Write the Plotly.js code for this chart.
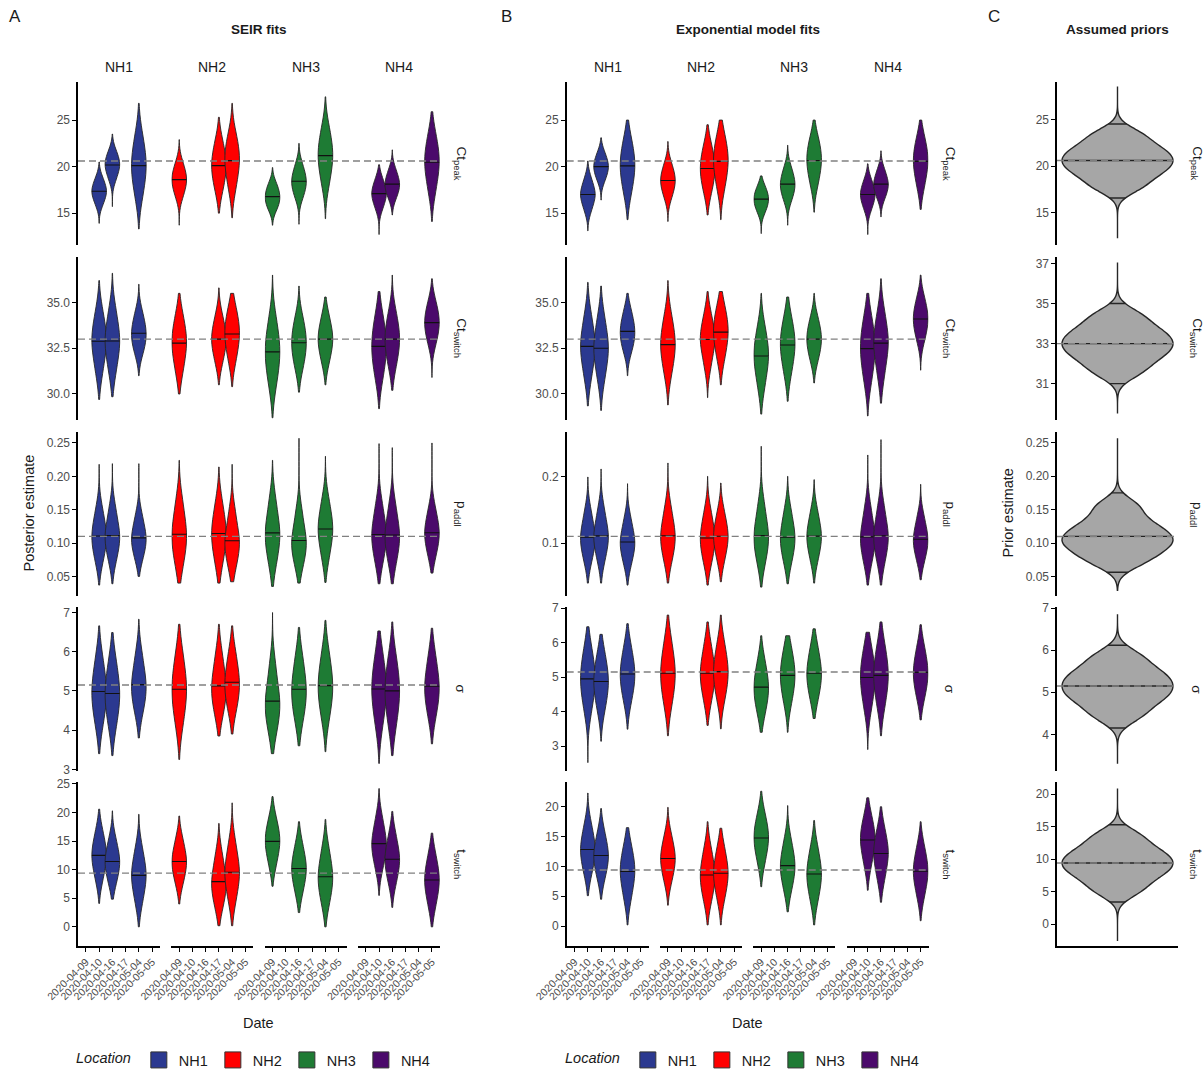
<!DOCTYPE html>
<html><head><meta charset="utf-8">
<script src="https://cdn.plot.ly/plotly-3.0.1.min.js"></script>
<style>html,body{margin:0;padding:0;background:#fff}#chart{width:1204px;height:1076px}</style>
</head><body><div id="chart"></div>
<script>
// ---------------- DATA ----------------
const dates = ["2020-04-09","2020-04-10","2020-04-16","2020-04-17","2020-05-04","2020-05-05"];
const locations = ["NH1","NH2","NH3","NH4"];
const locationColors = ["#2B3990","#FF0000","#1E7B34","#4B0A6B"];
const locationDates = [
  ["2020-04-10","2020-04-16","2020-05-04"],
  ["2020-04-09","2020-04-17","2020-05-04"],
  ["2020-04-09","2020-04-16","2020-05-04"],
  ["2020-04-10","2020-04-16","2020-05-05"]
];
const paramLabels = ["Ct<sub>peak</sub>","Ct<sub>switch</sub>","p<sub>addl</sub>","σ","t<sub>switch</sub>"];
const trueValues = [20.6, 33.0, 0.11, 5.15, 9.4];

// each violin: [lower tail end, five body draws, upper tail end]; grouped by location
const seirCtPeak = [
  [[13.9,16.0,16.9,17.35,17.8,18.7,20.5],[15.7,18.7,19.7,20.2,20.7,21.6,23.5],[13.3,17.0,19.0,20.1,21.2,23.2,26.8]],
  [[13.7,16.9,18.0,18.6,19.2,20.3,22.9],[15.0,17.6,19.2,20.1,21.0,22.6,25.3],[14.5,17.8,19.7,20.7,21.7,23.3,26.8]],
  [[13.7,15.5,16.2,16.75,17.3,18.1,19.9],[13.8,16.8,17.8,18.4,19.0,20.1,22.5],[14.4,18.3,20.2,21.2,22.2,24.0,27.5]],
  [[12.7,15.6,16.6,17.1,17.6,18.6,20.2],[14.8,16.7,17.6,18.1,18.6,19.6,21.8],[14.1,17.5,19.5,20.5,21.5,23.3,25.9]]
];
const seirCtSwitch = [
  [[29.7,31.3,32.4,32.9,33.4,34.4,36.2],[29.85,31.3,32.4,32.9,33.4,34.5,36.6],[31.0,32.3,32.9,33.3,33.7,34.4,36.0]],
  [[30.0,31.3,32.3,32.8,33.3,34.2,35.5],[30.5,31.8,32.6,33.0,33.4,34.2,35.8],[30.4,31.9,32.8,33.3,33.8,34.6,35.5]],
  [[28.7,30.6,31.7,32.3,32.9,34.0,36.5],[30.1,31.5,32.3,32.8,33.3,34.1,35.9],[30.5,31.8,32.6,33.0,33.4,34.2,35.3]],
  [[29.2,31.0,32.0,32.6,33.2,34.2,35.6],[30.2,31.6,32.5,33.0,33.5,34.4,36.5],[30.9,32.8,33.5,33.9,34.3,35.0,36.3]]
];
const seirPAddl = [
  [[0.037,0.075,0.098,0.110,0.122,0.148,0.218],[0.039,0.076,0.099,0.110,0.122,0.150,0.219],[0.050,0.078,0.097,0.107,0.117,0.140,0.219]],
  [[0.040,0.070,0.097,0.112,0.127,0.160,0.224],[0.040,0.072,0.100,0.114,0.128,0.158,0.214],[0.042,0.066,0.090,0.102,0.114,0.145,0.218]],
  [[0.035,0.072,0.100,0.114,0.128,0.162,0.224],[0.040,0.068,0.090,0.102,0.114,0.145,0.257],[0.041,0.080,0.108,0.121,0.134,0.162,0.230]],
  [[0.039,0.073,0.099,0.112,0.125,0.155,0.249],[0.039,0.072,0.098,0.111,0.124,0.155,0.243],[0.055,0.082,0.104,0.115,0.126,0.150,0.250]]
];
const seirSigma = [
  [[3.4,4.2,4.7,4.97,5.25,5.8,6.66],[3.35,4.15,4.65,4.93,5.2,5.75,6.49],[3.8,4.5,4.9,5.13,5.37,5.9,6.83]],
  [[3.25,4.2,4.75,5.04,5.33,5.9,6.7],[3.85,4.45,4.85,5.1,5.35,5.9,6.7],[3.9,4.55,4.95,5.2,5.45,5.95,6.66]],
  [[3.4,4.0,4.45,4.7,4.95,5.6,7.0],[3.6,4.3,4.75,5.02,5.3,5.85,6.62],[3.45,4.35,4.85,5.12,5.4,5.95,6.8]],
  [[3.15,4.2,4.75,5.05,5.35,5.9,6.53],[3.35,4.15,4.7,5.0,5.3,5.85,6.76],[3.65,4.4,4.85,5.1,5.35,5.9,6.6]]
];
const seirTSwitch = [
  [[4.1,8.5,11.2,12.5,13.8,16.5,20.6],[4.85,7.8,10.2,11.4,12.6,15.2,20.3],[0.0,4.5,7.6,9.0,10.4,13.5,19.7]],
  [[4.0,7.8,10.2,11.4,12.6,15.2,19.4],[0.2,3.8,6.3,7.8,9.2,12.5,18.1],[0.2,4.8,8.0,9.5,11.0,14.5,21.7]],
  [[7.1,11.0,13.7,15.0,16.3,18.8,22.8],[2.5,6.2,8.9,10.2,11.5,14.3,18.4],[0.0,4.3,7.2,8.7,10.2,13.5,18.8]],
  [[5.5,10.5,13.2,14.5,15.8,18.8,24.2],[3.4,7.8,10.5,11.8,13.1,16.0,20.2],[0.0,3.9,6.8,8.2,9.6,12.5,16.4]]
];

const expCtPeak = [
  [[13.1,15.4,16.5,17.0,17.5,18.6,20.6],[16.4,18.6,19.5,20.0,20.5,21.4,23.1],[14.3,17.3,19.1,20.1,21.1,22.8,25.0]],
  [[14.1,16.8,17.9,18.5,19.1,20.2,22.7],[14.8,17.4,18.9,19.8,20.7,22.2,24.5],[14.3,17.8,19.6,20.6,21.6,23.2,25.0]],
  [[12.8,15.2,16.0,16.5,17.0,17.8,19.0],[13.7,16.5,17.5,18.1,18.7,19.8,22.3],[15.1,18.2,19.8,20.7,21.6,23.0,25.0]],
  [[12.7,15.5,16.5,17.0,17.5,18.5,20.3],[14.6,16.7,17.6,18.1,18.6,19.6,21.7],[15.4,18.0,19.7,20.6,21.5,23.0,25.0]]
];
const expCtSwitch = [
  [[29.35,31.0,32.1,32.6,33.1,34.2,36.1],[29.1,30.9,32.0,32.5,33.0,34.1,35.9],[31.0,32.4,33.0,33.4,33.8,34.5,35.5]],
  [[29.4,31.2,32.2,32.7,33.2,34.2,36.2],[29.8,31.6,32.6,33.0,33.4,34.3,35.6],[30.5,32.0,32.9,33.4,33.9,34.7,35.6]],
  [[28.9,30.5,31.6,32.1,32.6,33.6,35.5],[29.6,31.2,32.2,32.7,33.2,34.1,35.3],[30.6,31.9,32.6,33.0,33.4,34.1,35.5]],
  [[28.8,30.8,31.9,32.5,33.1,34.1,35.5],[29.5,31.1,32.3,32.8,33.3,34.4,36.3],[31.3,33.0,33.7,34.1,34.5,35.2,36.5]]
];
const expPAddl = [
  [[0.040,0.075,0.097,0.108,0.119,0.145,0.199],[0.040,0.076,0.099,0.110,0.121,0.148,0.211],[0.037,0.070,0.091,0.101,0.111,0.135,0.189]],
  [[0.040,0.075,0.098,0.110,0.122,0.150,0.220],[0.037,0.072,0.095,0.107,0.119,0.145,0.200],[0.042,0.076,0.099,0.110,0.121,0.145,0.190]],
  [[0.034,0.072,0.097,0.110,0.123,0.155,0.245],[0.039,0.073,0.096,0.108,0.120,0.147,0.200],[0.040,0.076,0.099,0.110,0.121,0.146,0.195]],
  [[0.037,0.072,0.096,0.108,0.120,0.150,0.232],[0.037,0.073,0.098,0.110,0.122,0.152,0.255],[0.045,0.075,0.095,0.105,0.115,0.138,0.188]]
];
const expSigma = [
  [[2.52,4.1,4.65,4.95,5.25,5.8,6.46],[3.14,4.1,4.6,4.87,5.15,5.65,6.24],[3.49,4.35,4.82,5.08,5.34,5.85,6.55]],
  [[3.3,4.25,4.8,5.1,5.4,6.0,6.8],[3.6,4.35,4.85,5.1,5.35,5.9,6.6],[3.5,4.4,4.88,5.15,5.42,5.95,6.8]],
  [[3.4,4.0,4.45,4.7,4.95,5.45,6.2],[3.4,4.3,4.78,5.05,5.32,5.8,6.2],[3.8,4.4,4.85,5.1,5.35,5.85,6.4]],
  [[2.9,4.15,4.7,5.0,5.3,5.8,6.3],[3.3,4.2,4.75,5.05,5.35,5.9,6.6],[3.76,4.45,4.88,5.13,5.38,5.85,6.52]]
];
const expTSwitch = [
  [[5.1,9.0,11.5,12.8,14.1,16.8,22.3],[4.5,8.2,10.6,11.8,13.0,15.6,19.7],[0.2,4.8,7.8,9.2,10.6,13.3,16.5]],
  [[3.5,7.7,10.1,11.3,12.5,15.0,19.9],[0.2,4.5,7.1,8.5,9.9,12.8,17.5],[0.2,4.8,7.5,8.85,10.2,13.0,16.4]],
  [[6.6,10.8,13.5,14.8,16.1,18.6,22.6],[2.4,6.2,8.8,10.1,11.4,14.2,20.2],[0.2,4.5,7.3,8.7,10.1,13.0,17.7]],
  [[6.0,10.4,13.2,14.5,15.8,18.3,21.5],[4.0,8.0,10.9,12.2,13.5,16.2,20.0],[0.9,5.2,7.9,9.2,10.5,13.2,17.5]]
];

// priors: [lower tail end, seven body draws, upper tail end]
const priorDraws = [
  [12.3,17.8,19.1,19.9,20.6,21.3,22.1,23.4,28.5],
  [29.5,31.6,32.25,32.65,33.0,33.35,33.75,34.4,37.05],
  [0.030,0.072,0.088,0.099,0.108,0.118,0.132,0.155,0.256],
  [3.3,4.45,4.78,4.97,5.15,5.33,5.52,5.85,6.86],
  [-2.6,5.2,7.2,8.4,9.4,10.4,11.6,13.6,20.9]
];
// 2.5% and 97.5% prior quantiles drawn inside the prior violins
const priorQuantiles = [[16.6,24.5],[31.0,35.0],[0.057,0.175],[4.15,6.12],[3.4,15.3]];

// ---------------- LAYOUT ----------------
const W = 1204, H = 1076;
const px = v => v / W, py = v => 1 - v / H;
const rowTop = [82, 257, 432, 608, 783], rowBot = [245, 420, 597, 772, 947];
const facetW = 82, facetPitch = 93.3;
const FONT = "Liberation Sans, Arial, Helvetica, sans-serif";
const axId = (p, n) => p + (n === 1 ? '' : n);
const axKey = (p, n) => p + 'axis' + (n === 1 ? '' : n);
const DASH = '7px,4px';

const panels = [
  {name:'A', title:'SEIR fits', left:78, xs:1, ys:1,
   data:[seirCtPeak, seirCtSwitch, seirPAddl, seirSigma, seirTSwitch],
   ranges:[[11.6,29.1],[28.6,37.5],[0.02,0.267],[2.95,7.13],[-3.37,25.3]],
   ticks:[[15,20,25],[30,32.5,35],[0.05,0.1,0.15,0.2,0.25],[3,4,5,6,7],[0,5,10,15,20,25]],
   fmts:['','.1f','.2f','',''], legend:'legend'},
  {name:'B', title:'Exponential model fits', left:566.7, xs:5, ys:6,
   data:[expCtPeak, expCtSwitch, expPAddl, expSigma, expTSwitch],
   ranges:[[11.6,29.1],[28.6,37.5],[0.02,0.267],[2.27,7.02],[-3.35,24.1]],
   ticks:[[15,20,25],[30,32.5,35],[0.1,0.2],[3,4,5,6,7],[0,5,10,15,20]],
   fmts:['','.1f','.1f','',''], legend:'legend2'}
];

const layout = {
  width: W, height: H, paper_bgcolor:'#fff', plot_bgcolor:'rgba(0,0,0,0)',
  margin:{l:0,r:0,t:0,b:0}, showlegend:true, violinmode:'overlay',
  font:{family:FONT, color:'#1a1a1a'},
  shapes:[], annotations:[]
};
const traces = [];

function yAxisDef(r, range, tickvals, fmt, anchor){
  return {domain:[py(rowBot[r]), py(rowTop[r])], range:range, tickvals:tickvals, tickformat:fmt,
    anchor:anchor, showline:true, linecolor:'#000', linewidth:1.6, ticks:'outside', ticklen:4,
    tickwidth:1, tickcolor:'#000', tickfont:{size:12, color:'#4d4d4d', family:FONT},
    showgrid:false, zeroline:false, fixedrange:true};
}

const ann = (text, x, y, size, extra) => layout.annotations.push(Object.assign({
  text:text, xref:'paper', yref:'paper', x:px(x), y:py(y), showarrow:false,
  xanchor:'center', yanchor:'middle', font:{size:size, color:'#1a1a1a', family:FONT}}, extra || {}));

panels.forEach(p => {
  const bottomY = axId('y', p.ys + 4);
  for (let f = 0; f < 4; f++) {
    const l = p.left + f * facetPitch;
    layout[axKey('x', p.xs + f)] = {domain:[px(l), px(l + facetW)], range:[-0.6, 5.6],
      tickvals:dates.map((d, i) => i), ticktext:dates, tickangle:-45, anchor:bottomY,
      showline:true, linecolor:'#000', linewidth:1.6, ticks:'outside', ticklen:4, tickwidth:1,
      tickcolor:'#000', tickfont:{size:10.5, color:'#4d4d4d', family:FONT},
      showgrid:false, zeroline:false, fixedrange:true};
    ann(locations[f], l + facetW / 2, 67, 14);
  }
  for (let r = 0; r < 5; r++) {
    layout[axKey('y', p.ys + r)] = yAxisDef(r, p.ranges[r], p.ticks[r], p.fmts[r], axId('x', p.xs));
    layout.shapes.push({type:'line', layer:'above', xref:'paper', x0:px(p.left), x1:px(p.left + 3 * facetPitch + facetW),
      yref:axId('y', p.ys + r), y0:trueValues[r], y1:trueValues[r], line:{color:'#808080', width:1.4, dash:DASH}});
    ann(paramLabels[r], p.left + 3 * facetPitch + facetW + 21, (rowTop[r] + rowBot[r]) / 2, 13.5, {textangle:90});
    for (let f = 0; f < 4; f++) {
      p.data[r][f].forEach((v, k) => {
        traces.push({type:'violin', orientation:'v', x0:dates.indexOf(locationDates[f][k]), y:v.slice(1, -1),
          xaxis:axId('x', p.xs + f), yaxis:axId('y', p.ys + r), width:1.1,
          spanmode:'manual', span:[v[0], v[v.length - 1]],
          scalegroup:p.name + r, scalemode:'width',
          fillcolor:locationColors[f], line:{color:'#262626', width:0.9},
          meanline:{visible:true, color:'#111', width:1.1}, points:false,
          hoverinfo:'skip', showlegend:false, name:locations[f]});
      });
    }
  }
  // legend entries
  locations.forEach((loc, f) => traces.push({type:'scatter', mode:'markers', x:[null], y:[null],
    xaxis:axId('x', p.xs), yaxis:axId('y', p.ys), name:loc, legend:p.legend,
    marker:{symbol:'square', size:18, color:locationColors[f], line:{color:'#333', width:1}}}));
  const cx = p.left + (3 * facetPitch + facetW) / 2;
  ann('<b>' + p.title + '</b>', cx, 30, 13.5);
  ann('Date', cx, 1024, 14.5);
});

// Panel C (priors)
const cLeft = 1057, cRight = 1178, cWidth = 1.1;
layout.xaxis9 = {domain:[px(cLeft), px(cRight)], range:[-0.6, 0.6], anchor:'y15', showline:true,
  linecolor:'#000', linewidth:1.6, ticks:'', showticklabels:false, showgrid:false, zeroline:false, fixedrange:true};
const cRanges = [[11.6,29.0],[29.2,37.34],[0.021,0.266],[3.12,7.02],[-3.4,21.85]];
const cTicks = [[15,20,25],[31,33,35,37],[0.05,0.1,0.15,0.2,0.25],[4,5,6,7],[0,5,10,15,20]];
const cFmts = ['','','.2f','',''];

function kde(pts, bw, y) {
  let s = 0;
  for (const p of pts) { const u = (y - p) / bw; s += Math.exp(-0.5 * u * u); }
  return s / (pts.length * bw * Math.sqrt(2 * Math.PI));
}
for (let r = 0; r < 5; r++) {
  const yax = axId('y', 11 + r);
  layout[axKey('y', 11 + r)] = yAxisDef(r, cRanges[r], cTicks[r], cFmts[r], 'x9');
  const v = priorDraws[r];
  const body = v.slice(1, -1);
  const bw = 0.16 * (body[body.length - 1] - body[0]);
  const span = [v[0], v[v.length - 1]];
  traces.push({type:'violin', orientation:'v', x0:0, y:body, xaxis:'x9', yaxis:yax,
    width:cWidth, spanmode:'manual', span:span, bandwidth:bw, scalegroup:'C' + r, scalemode:'width',
    fillcolor:'#a6a6a6', line:{color:'#262626', width:1.4}, meanline:{visible:true, color:'#222', width:1.4},
    points:false, hoverinfo:'skip', showlegend:false, name:'prior'});
  // quantile lines sized by the same kernel density the violin uses
  let maxD = 0;
  for (let i = 0; i <= 600; i++) maxD = Math.max(maxD, kde(body, bw, span[0] + (span[1] - span[0]) * i / 600));
  priorQuantiles[r].forEach(q => {
    const hw = kde(body, bw, q) / maxD * cWidth / 2;
    traces.push({type:'scatter', mode:'lines', x:[-hw, hw], y:[q, q], xaxis:'x9', yaxis:yax,
      line:{color:'#262626', width:1.4}, hoverinfo:'skip', showlegend:false});
  });
  layout.shapes.push({type:'line', layer:'above', xref:'paper', x0:px(cLeft), x1:px(cRight),
    yref:yax, y0:trueValues[r], y1:trueValues[r], line:{color:'#808080', width:1.4, dash:DASH}});
  ann(paramLabels[r], 1197, (rowTop[r] + rowBot[r]) / 2, 13.5, {textangle:90});
}
ann('<b>Assumed priors</b>', 1117, 30, 13.5);

// panel letters and axis titles
ann('A', 15, 17, 17);
ann('B', 506, 17, 17);
ann('C', 994, 17, 17);
ann('Posterior estimate', 29, 514, 14.5, {textangle:-90});
ann('Prior estimate', 1008, 514, 14.5, {textangle:-90});

const legendBase = {orientation:'h', yanchor:'middle', y:py(1061), xanchor:'left',
  font:{size:14.5, color:'#1a1a1a', family:FONT}, title:{text:'<i>Location</i>', side:'left', font:{size:14.5, family:FONT}},
  itemsizing:'trace', bgcolor:'rgba(0,0,0,0)', tracegroupgap:0};
layout.legend = Object.assign({}, legendBase, {x:px(74)});
layout.legend2 = Object.assign({}, legendBase, {x:px(563)});

Plotly.newPlot('chart', traces, layout, {staticPlot:true, displayModeBar:false}).then(() => {
  document.querySelectorAll('path.meanline').forEach(e => { e.style.strokeDasharray = 'none'; });
  // drop placeholder text nodes that Plotly leaves empty (untitled axes etc.)
  document.querySelectorAll('#chart svg text').forEach(t => {
    let empty = !t.textContent.trim();
    if (!empty) { try { const b = t.getBBox(); empty = b.width === 0 || b.height === 0; } catch (e) {} }
    if (empty) t.remove();
  });
});
</script>
</body></html>
